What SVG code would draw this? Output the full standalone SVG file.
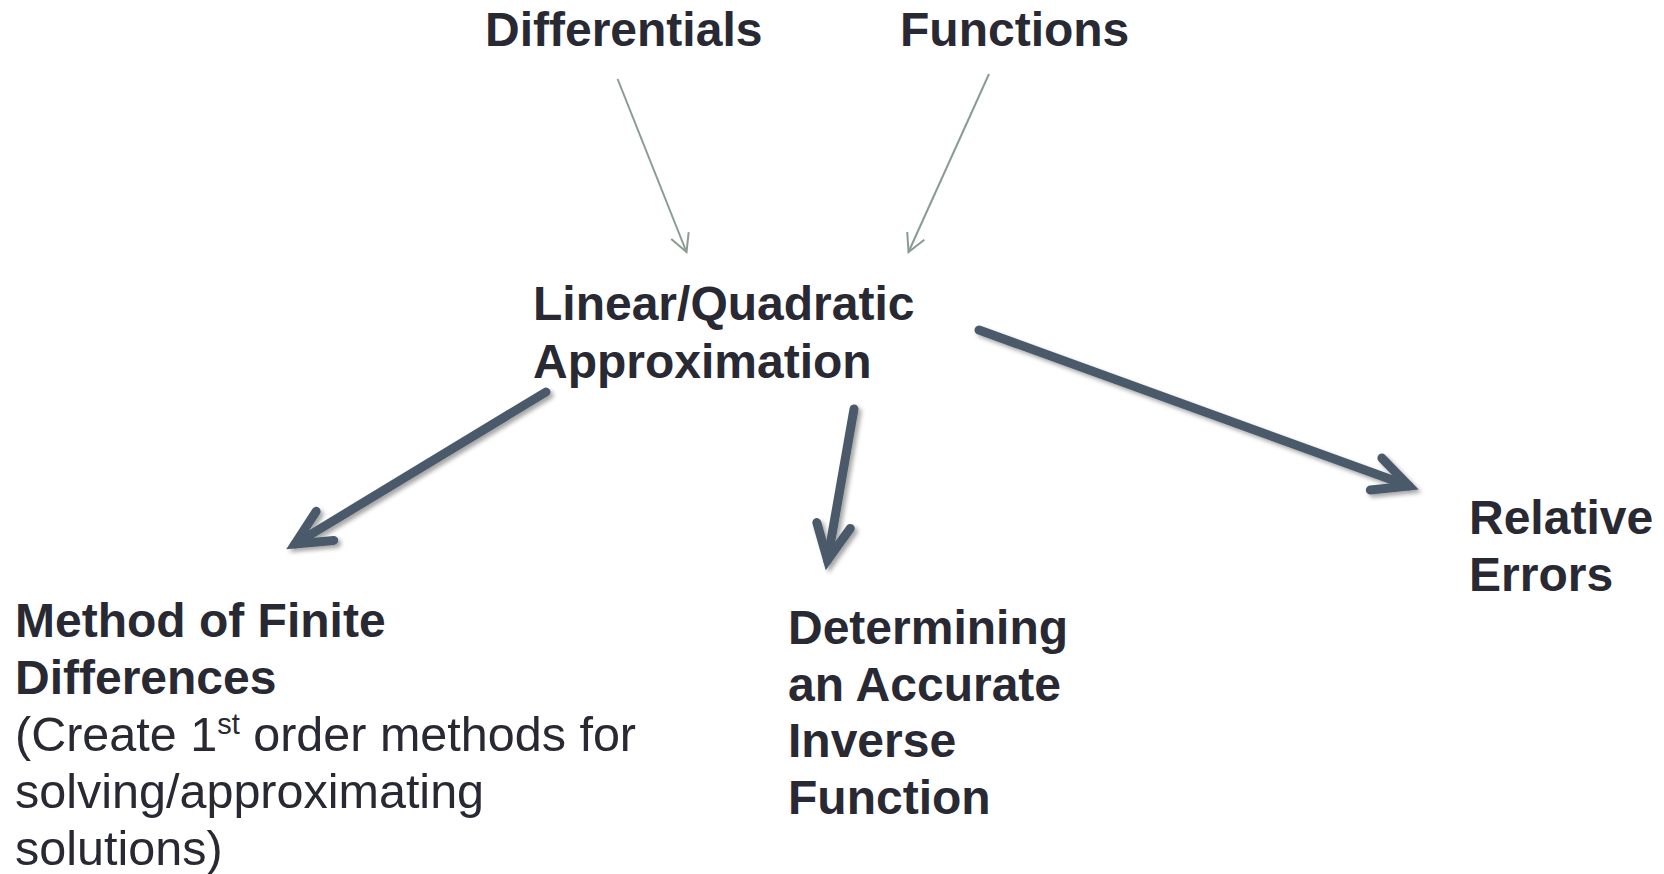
<svg xmlns="http://www.w3.org/2000/svg" width="1664" height="874" viewBox="0 0 1664 874">
<style>
  .b { font-family: "Liberation Sans", Arial, sans-serif; font-weight: bold; font-size: 48px; fill: #292933; }
  .r { font-family: "Liberation Sans", Arial, sans-serif; font-weight: normal; font-size: 48.5px; fill: #292933; }
  .thin { stroke: #8A9C92; stroke-width: 2; fill: none; marker-end: url(#thinHead); }
  .thick { stroke: #4B5A6A; stroke-width: 9; fill: none; stroke-linecap: round; marker-end: url(#thickHead); }
</style>
<defs>
  <marker id="thinHead" markerUnits="userSpaceOnUse" viewBox="-20 -12 24 24" refX="0" refY="0" markerWidth="24" markerHeight="24" orient="auto" overflow="visible">
    <path d="M -17.7,-9.4 L 0,0 L -17.7,9.4" fill="none" stroke="#8A9C92" stroke-width="2" stroke-linejoin="miter"/>
  </marker>
  <marker id="thickHead" markerUnits="userSpaceOnUse" viewBox="-45 -30 60 60" refX="0" refY="0" markerWidth="60" markerHeight="60" orient="auto" overflow="visible">
    <path d="M -35,-17 L 0,0 L -35,17" fill="none" stroke="#4B5A6A" stroke-width="9" stroke-linecap="round" stroke-linejoin="miter"/>
  </marker>
  <filter id="shadow" x="-20%" y="-20%" width="140%" height="140%">
    <feDropShadow dx="3" dy="3" stdDeviation="2" flood-color="#000" flood-opacity="0.35"/>
  </filter>
</defs>

<g id="connectors">
  <line class="thin" x1="617.6" y1="79" x2="686.5" y2="252"/>
  <line class="thin" x1="989" y1="74" x2="908.5" y2="252"/>
  <g filter="url(#shadow)">
    <line class="thick" x1="546" y1="392" x2="295" y2="544"/>
    <line class="thick" x1="854" y1="409" x2="827.5" y2="560"/>
    <line class="thick" x1="979" y1="330" x2="1409" y2="486"/>
  </g>
</g>

<g id="differentials"><text class="b" x="485" y="46">Differentials</text></g>
<g id="functions"><text class="b" x="900" y="46">Functions</text></g>
<g id="linear-quadratic">
  <text class="b" x="533" y="320">Linear/Quadratic</text>
  <text class="b" x="533" y="378">Approximation</text>
</g>
<g id="finite-differences">
  <text class="b" x="15" y="637">Method of Finite</text>
  <text class="b" x="15" y="694">Differences</text>
  <text class="r" x="15" y="751">(Create 1<tspan font-size="29" dy="-17">st</tspan><tspan dy="17"> order methods for</tspan></text>
  <text class="r" x="15" y="808">solving/approximating</text>
  <text class="r" x="15" y="865">solutions)</text>
</g>
<g id="inverse-function">
  <text class="b" x="788" y="644">Determining</text>
  <text class="b" x="788" y="700.7">an Accurate</text>
  <text class="b" x="788" y="757.4">Inverse</text>
  <text class="b" x="788" y="814">Function</text>
</g>
<g id="relative-errors">
  <text class="b" x="1469" y="534">Relative</text>
  <text class="b" x="1469" y="591">Errors</text>
</g>
</svg>
